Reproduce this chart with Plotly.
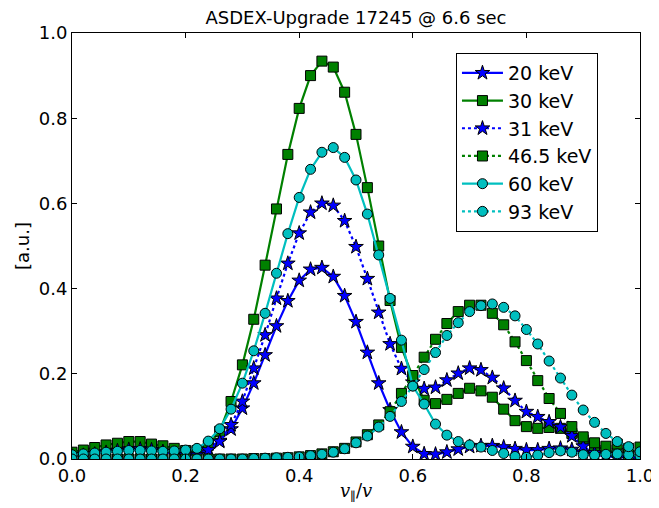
import plotly.graph_objects as go

x_vals = [0.00, 0.02, 0.04, 0.06, 0.08, 0.10, 0.12, 0.14, 0.16, 0.18,
          0.20, 0.22, 0.24, 0.26, 0.28, 0.30, 0.32, 0.34, 0.36, 0.38,
          0.40, 0.42, 0.44, 0.46, 0.48, 0.50, 0.52, 0.54, 0.56, 0.58,
          0.60, 0.62, 0.64, 0.66, 0.68, 0.70, 0.72, 0.74, 0.76, 0.78,
          0.80, 0.82, 0.84, 0.86, 0.88, 0.90, 0.92, 0.94, 0.96, 0.98, 1.00]

kev20 = [0.008, 0.010, 0.013, 0.016, 0.020, 0.023, 0.024, 0.022, 0.018, 0.013,
         0.010, 0.013, 0.025, 0.043, 0.070, 0.119, 0.178, 0.244, 0.312, 0.371,
         0.419, 0.445, 0.449, 0.428, 0.383, 0.322, 0.250, 0.178, 0.115, 0.063,
         0.029, 0.012, 0.011, 0.016, 0.023, 0.029, 0.031, 0.031, 0.028, 0.024,
         0.021, 0.021, 0.024, 0.025, 0.022, 0.016, 0.010, 0.006, 0.004, 0.003, 0.002]

kev30 = [0.016, 0.021, 0.027, 0.033, 0.037, 0.041, 0.041, 0.035, 0.031, 0.025,
         0.020, 0.020, 0.032, 0.065, 0.135, 0.221, 0.328, 0.455, 0.587, 0.715,
         0.823, 0.900, 0.934, 0.920, 0.861, 0.762, 0.637, 0.500, 0.372, 0.262,
         0.193, 0.138, 0.130, 0.140, 0.154, 0.166, 0.160, 0.145, 0.117, 0.090,
         0.076, 0.072, 0.074, 0.072, 0.060, 0.045, 0.031, 0.021, 0.014, 0.010, 0.009]

kev31 = [0.006, 0.008, 0.011, 0.015, 0.019, 0.022, 0.023, 0.021, 0.017, 0.012,
         0.009, 0.010, 0.021, 0.041, 0.080, 0.135, 0.213, 0.291, 0.377, 0.459,
         0.530, 0.579, 0.600, 0.595, 0.559, 0.498, 0.423, 0.344, 0.270, 0.212,
         0.180, 0.165, 0.168, 0.185, 0.201, 0.213, 0.209, 0.191, 0.166, 0.137,
         0.111, 0.099, 0.087, 0.075, 0.054, 0.030, 0.014, 0.010, 0.008, 0.005, 0.004]

kev46_5 = [0.000, 0.000, 0.000, 0.000, 0.000, 0.000, 0.000, 0.000, 0.000, 0.000,
           0.000, 0.000, 0.000, 0.000, 0.000, 0.000, 0.001, 0.001, 0.002, 0.003,
           0.005, 0.008, 0.012, 0.017, 0.025, 0.040, 0.057, 0.080, 0.111, 0.154,
           0.196, 0.239, 0.281, 0.318, 0.346, 0.361, 0.361, 0.342, 0.315, 0.275,
           0.231, 0.184, 0.142, 0.107, 0.076, 0.052, 0.038, 0.030, 0.035, 0.025, 0.028]

kev60 = [0.010, 0.012, 0.014, 0.016, 0.018, 0.020, 0.020, 0.019, 0.018, 0.019,
         0.021, 0.025, 0.042, 0.071, 0.117, 0.178, 0.254, 0.342, 0.436, 0.529,
         0.614, 0.680, 0.720, 0.731, 0.708, 0.655, 0.575, 0.479, 0.377, 0.279,
         0.172, 0.129, 0.082, 0.056, 0.041, 0.033, 0.028, 0.020, 0.013, 0.006,
         0.004, 0.009, 0.015, 0.019, 0.016, 0.010, 0.009, 0.011, 0.012, 0.010, 0.007]

kev93 = [0.000, 0.000, 0.000, 0.000, 0.000, 0.000, 0.000, 0.000, 0.000, 0.000,
         0.000, 0.000, 0.000, 0.000, 0.000, 0.000, 0.001, 0.002, 0.003, 0.004,
         0.005, 0.008, 0.011, 0.016, 0.024, 0.038, 0.054, 0.075, 0.100, 0.135,
         0.171, 0.210, 0.250, 0.290, 0.320, 0.346, 0.360, 0.364, 0.356, 0.336,
         0.304, 0.270, 0.230, 0.190, 0.150, 0.115, 0.086, 0.060, 0.041, 0.029, 0.017]

tick_vals = [0.0, 0.2, 0.4, 0.6, 0.8, 1.0]
tick_text = ["0.0", "0.2", "0.4", "0.6", "0.8", "1.0"]

series = [
    ("20 keV", kev20, "#0000ff", "solid", "star", 11),
    ("30 keV", kev30, "#008000", "solid", "square", 10),
    ("31 keV", kev31, "#0000ff", "dot", "star", 11),
    ("46.5 keV", kev46_5, "#008000", "dot", "square", 10),
    ("60 keV", kev60, "#00bfbf", "solid", "circle", 10),
    ("93 keV", kev93, "#00bfbf", "dot", "circle", 10),
]

fig = go.Figure()
for name, vals, color, dash, sym, size in series:
    fig.add_trace(go.Scatter(
        x=x_vals, y=vals, name=name, mode="lines+markers",
        legendgroup=name,
        line=dict(color=color, width=2.2, dash=dash),
        marker=dict(symbol=sym, size=size, color=color,
                    line=dict(color="black", width=1)),
    ))

axis_common = dict(
    showline=True, linecolor="black", linewidth=1, mirror="ticks",
    ticks="inside", ticklen=5, tickcolor="black", showgrid=False,
    zeroline=False, automargin=False, range=[0, 1],
    tickvals=tick_vals, ticktext=tick_text,
    tickfont=dict(family="DejaVu Sans", size=18, color="black"),
)

# page body has an 8px margin: the figure is sized and padded to compensate
W, H = 651, 500
fig.update_layout(
    width=W, height=H,
    margin=dict(l=64, r=19, t=25, b=49),
    plot_bgcolor="white", paper_bgcolor="white",
    title=dict(text="ASDEX-Upgrade 17245 @ 6.6 sec", x=0.5, xref="paper",
               y=1 - 10 / H, yref="container", xanchor="center", yanchor="middle",
               font=dict(family="DejaVu Sans", size=18, color="black")),
    xaxis=axis_common,
    yaxis=axis_common,
    legend=dict(x=0.926, y=0.953, xanchor="right", yanchor="top",
                bgcolor="white", bordercolor="black", borderwidth=1,
                font=dict(family="DejaVu Sans", size=19, color="black"),
                itemwidth=41, tracegroupgap=0),
    showlegend=True,
    annotations=[
        dict(text="<i>v</i><sub>∥</sub>/<i>v</i>", xref="paper", yref="paper",
             x=0.5, y=-33 / 426, xanchor="center", yanchor="middle", showarrow=False,
             font=dict(family="DejaVu Serif", size=18, color="black")),
        dict(text="[a.u.]", xref="paper", yref="paper",
             x=-50 / 568, y=0.5, xanchor="center", yanchor="middle", showarrow=False,
             textangle=-90,
             font=dict(family="DejaVu Sans", size=18, color="black")),
    ],
)

fig.write_html("out.html")
